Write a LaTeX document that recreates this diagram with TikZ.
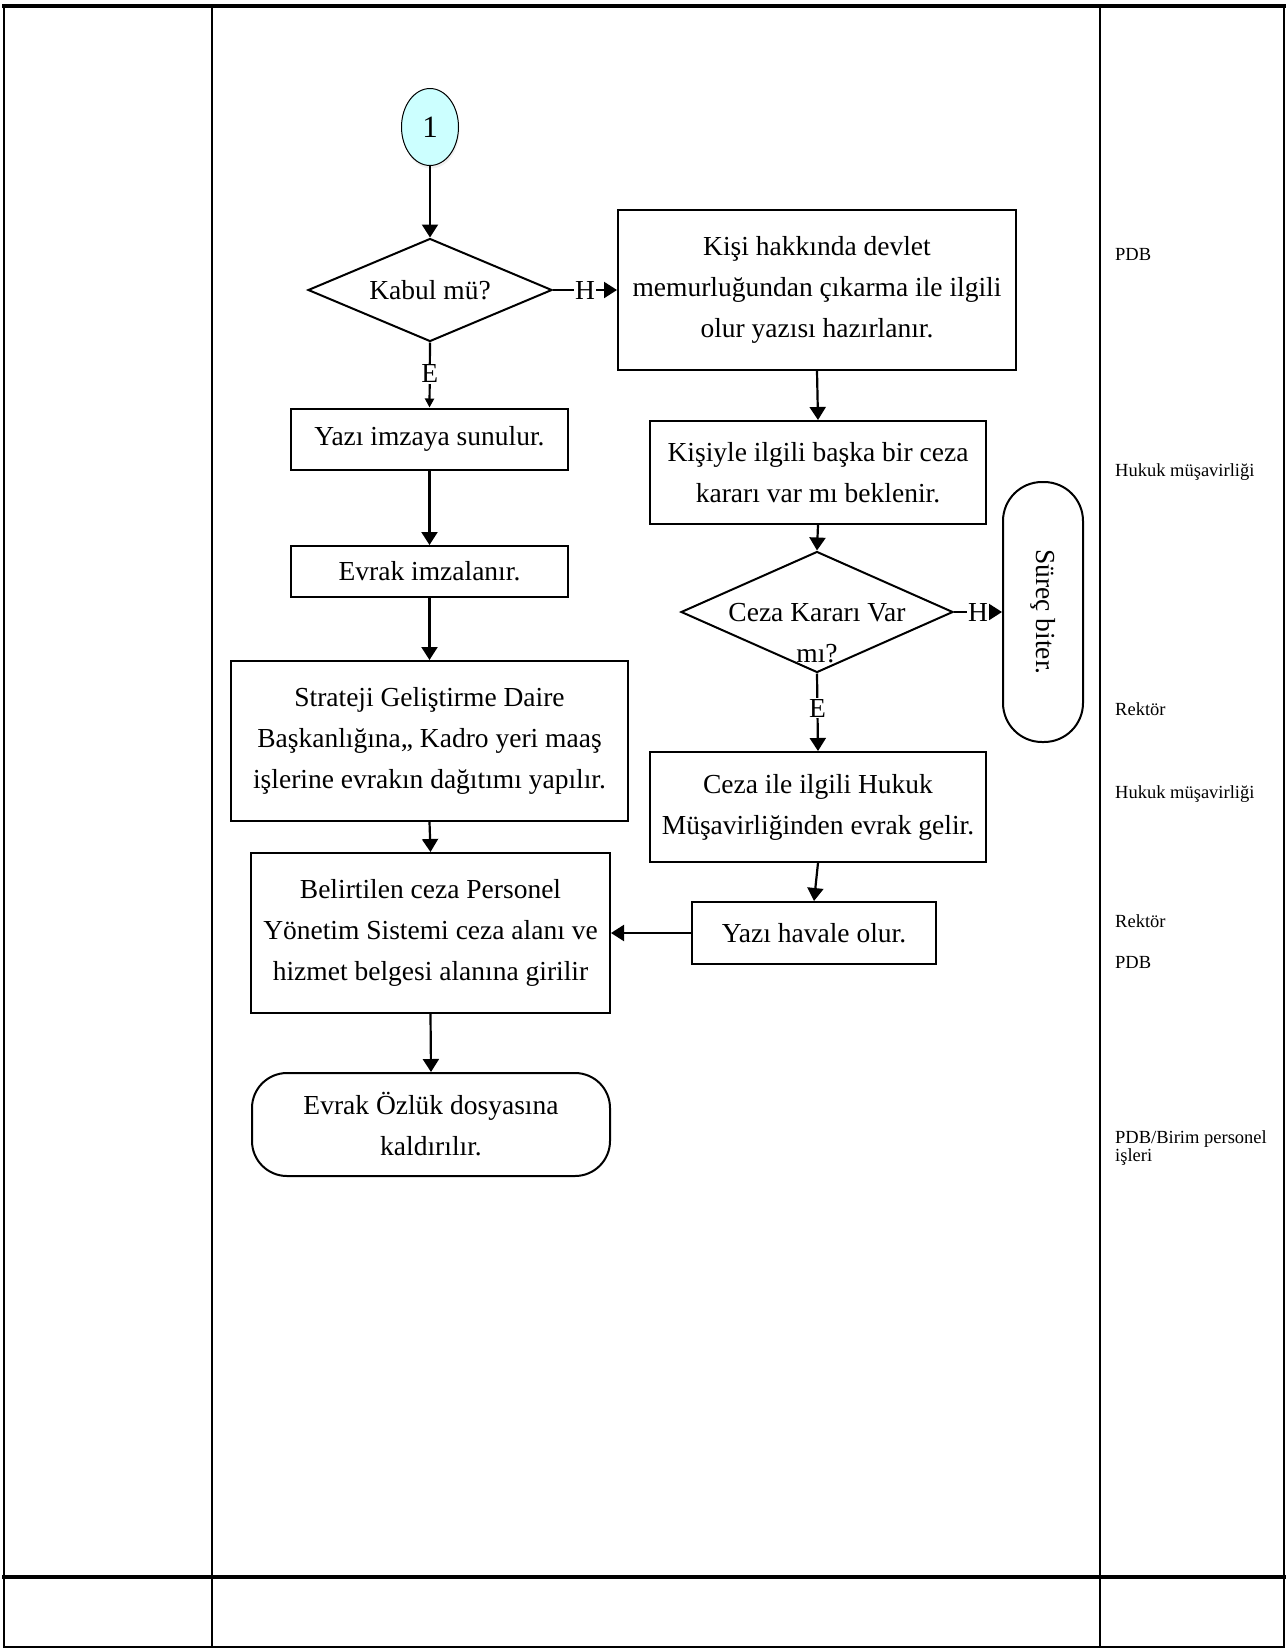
\documentclass[tikz,border=0pt]{standalone}
\usepackage{fontspec}
\setmainfont{Liberation Serif}
\usetikzlibrary{shapes.geometric,arrows.meta,shadows}
\definecolor{conncyan}{HTML}{CCFFFF}
\begin{document}
\begin{tikzpicture}[x=1pt,y=-1pt,
  big/.style={font=\fontsize{27.5}{41}\selectfont},
  box/.style={draw, line width=2pt, rectangle, align=center, big, inner sep=0pt},
  dec/.style={draw, line width=2pt, diamond, inner sep=0pt, big},
  term/.style={draw, line width=2pt, rectangle, align=center, big, inner sep=0pt},
  arr/.style={line width=2.2pt, -{Triangle[length=13pt,width=16pt]}},
  smallarr/.style={line width=2.2pt, -{Triangle[length=9pt,width=9pt]}},
  lab/.style={fill=white, inner sep=1pt, big},
  side/.style={font=\fontsize{18.5}{18}\selectfont, anchor=west, align=left, inner sep=0pt},
  gridline/.style={line width=2.2pt},
  heavyline/.style={line width=4.8pt}]
\useasboundingbox (0,0) rectangle (1287,1649);
% table
\draw[gridline] (4,6) -- (4,1647) -- (1284,1647) -- (1284,6);
\draw[gridline] (212,6) -- (212,1647);
\draw[gridline] (1100,6) -- (1100,1647);
\draw[heavyline] (2,6) -- (1286,6);
\draw[heavyline] (2,1577) -- (1286,1577);
% connector
\node[draw, ellipse, line width=1pt, fill=conncyan, minimum width=57pt, minimum height=77pt, inner sep=0pt,
      font=\fontsize{31}{31}\selectfont,
      drop shadow={shadow xshift=1pt, shadow yshift=-3pt, opacity=0.12}] (c1) at (430,127) {1};
% left branch
\node[dec, aspect=2.37, minimum width=244pt, minimum height=103pt] (d1) at (430,290) {Kabul mü?};
\node[box, minimum width=398pt, minimum height=160pt] (b1) at (817,290)
  {Kişi hakkında devlet\\memurluğundan çıkarma ile ilgili\\olur yazısı hazırlanır.};
\node[box, minimum width=277pt, minimum height=61pt] (l1) at (429.5,439) {Yazı imzaya sunulur.};
\node[box, minimum width=277pt, minimum height=51pt] (l2) at (429.5,571.5) {Evrak imzalanır.};
\node[box, minimum width=397pt, minimum height=160pt] (l3) at (429.5,741)
  {Strateji Geliştirme Daire\\Başkanlığına,, Kadro yeri maaş\\işlerine evrakın dağıtımı yapılır.};
\node[box, minimum width=359pt, minimum height=160pt] (l4) at (430.5,933)
  {Belirtilen ceza Personel\\Yönetim Sistemi ceza alanı ve\\hizmet belgesi alanına girilir};
\node[term, rounded corners=35pt, minimum width=358pt, minimum height=103pt] (l5) at (431,1124.5)
  {Evrak Özlük dosyasına\\kaldırılır.};
% right branch
\node[box, minimum width=336pt, minimum height=103pt] (b2) at (818,472.5)
  {Kişiyle ilgili başka bir ceza\\kararı var mı beklenir.};
\node[dec, aspect=2.25, minimum width=272pt, minimum height=121pt] (d2) at (817,612) {};
\node[big, align=center, inner sep=0pt] (d2t) at (817,633) {Ceza Kararı Var\\mı?};
\node[term, rounded corners=39pt, rotate=-90, minimum width=260pt, minimum height=80pt] (e1) at (1043,612) {Süreç biter.};
\node[box, minimum width=336pt, minimum height=110pt] (b3) at (818,807)
  {Ceza ile ilgili Hukuk\\Müşavirliğinden evrak gelir.};
\node[box, minimum width=244pt, minimum height=62pt] (b4) at (814,933) {Yazı havale olur.};
% connectors
\draw[arr] (c1.south) -- (d1.north);
\draw[arr] (d1.east) -- node[lab] (h1) {H} (b1.west);
\draw[smallarr] (d1.south) -- node[lab, pos=0.48] (e1l) {E} (l1.north);
\draw[arr] (l1.south) -- (l2.north);
\draw[arr] (l2.south) -- (l3.north);
\draw[arr] (l3.south) -- (l4.north);
\draw[arr] (l4.south) -- (l5.north);
\draw[arr] (b1.south) -- (b2.north);
\draw[arr] (b2.south) -- (d2.north);
\draw[arr] (d2.east) -- node[lab, pos=0.5] (h2) {H} (e1.south);
\draw[arr] (d2.south) -- node[lab, pos=0.45] (e2l) {E} (b3.north);
\draw[arr] (b3.south) -- (b4.north);
\draw[arr] (b4.west) -- (l4.east);
% responsibility column
\node[side] (r1) at (1115,254) {PDB};
\node[side] (r2) at (1115,472) {Hukuk müşavirliği};
\node[side] (r3) at (1115,709) {Rektör};
\node[side] (r4) at (1115,794) {Hukuk müşavirliği};
\node[side] (r5) at (1115,921) {Rektör};
\node[side] (r6) at (1115,962) {PDB};
\node[side] (r7) at (1115,1148) {PDB/Birim personel\\işleri};
\end{tikzpicture}
\end{document}
